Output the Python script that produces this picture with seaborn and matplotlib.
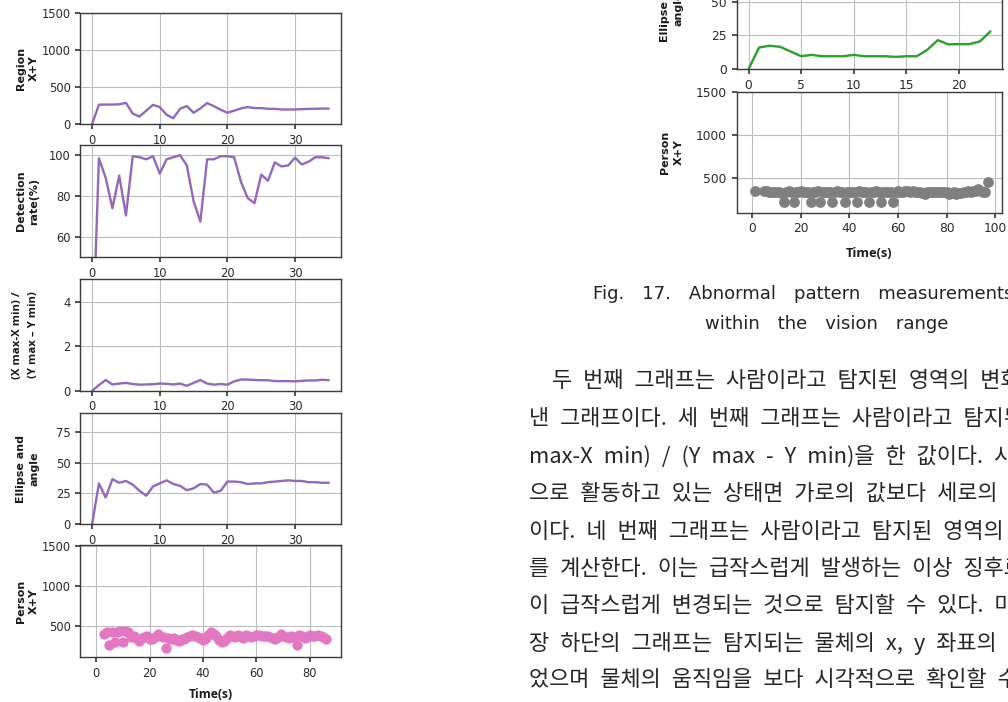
import matplotlib
matplotlib.use("Agg")
import matplotlib.pyplot as plt
from matplotlib.ticker import MultipleLocator, FixedLocator
import pandas as pd
import seaborn as sns

# ---------------- data ----------------
t_track = list(range(36))
region_xy = [0, 260, 262, 262, 265, 285, 140, 100, 180, 258, 228, 125, 78, 205,
             242, 152, 210, 282, 240, 192, 152, 180, 210, 228, 215, 214, 205, 204,
             196, 195, 196, 200, 204, 205, 208, 208]
detection_rate = [0, 98.5, 89, 74, 90, 70.5, 99.5, 99, 98, 99.5, 91, 98, 99, 100,
                  95, 77.5, 67.5, 98, 98, 99.5, 99.5, 99, 87, 79, 76.5, 90.5, 87.5,
                  96.5, 94.5, 95, 98.8, 95.5, 96.8, 99, 99, 98.5]
aspect_ratio = [0, 0.25, 0.48, 0.28, 0.32, 0.35, 0.30, 0.27, 0.28, 0.29, 0.32, 0.31,
                0.28, 0.32, 0.22, 0.35, 0.48, 0.32, 0.27, 0.30, 0.27, 0.42, 0.50,
                0.50, 0.48, 0.47, 0.47, 0.43, 0.43, 0.43, 0.42, 0.44, 0.46, 0.46,
                0.49, 0.47]
ellipse_angle = [0, 33, 21.5, 36.5, 33.5, 35, 32, 27, 23, 30.5, 33, 35.5, 32.5, 31,
                 27.5, 29, 32.5, 32, 25.5, 27, 34.5, 34.5, 34, 32.5, 33, 33, 34,
                 34.5, 35, 35.5, 35, 35, 34, 34, 33.5, 33.5]

t_person = list(range(3, 87))
person_xy = [400, 415, 250, 425, 300, 420, 430, 290, 430, 420, 360, 370, 350, 310,
             340, 355, 365, 330, 335, 360, 395, 375, 355, 215, 350, 335, 345, 320,
             310, 330, 335, 355, 365, 380, 370, 355, 340, 320, 350, 380, 425, 395,
             375, 320, 295, 310, 345, 380, 370, 355, 385, 370, 350, 385, 370, 360,
             375, 385, 380, 370, 375, 365, 355, 345, 330, 360, 400, 375, 360, 350,
             370, 360, 250, 380, 370, 345, 360, 380, 370, 375, 380, 370, 360, 335]

t_angle_b = list(range(24))
ellipse_angle_b = [0, 16, 17.3, 16.5, 13, 9.5, 10.5, 9.5, 9.5, 9.5, 10.5, 9.5, 9.5,
                   9.5, 9, 9.5, 9.5, 14.3, 21.5, 18.3, 18.5, 18.5, 20.5, 28]

t_person_b = [1] + list(range(5, 98))
person_xy_b = [345,
               355, 350, 340, 335, 340, 338, 342, 330, 225, 340,   # t 5-14
               345, 335, 225, 340, 338, 345, 335, 342, 340, 225,   # t 15-24
               338, 340, 345, 225, 338, 340, 342, 335, 225, 340,   # t 25-34
               345, 338, 340, 225, 342, 335, 340, 338, 225, 345,   # t 35-44
               338, 340, 335, 225, 342, 340, 345, 338, 225, 335,   # t 45-54
               340, 342, 338, 225, 340, 345, 335, 342, 345, 348,   # t 55-64
               342, 345, 340, 338, 335, 330, 320, 335, 338, 340,   # t 65-74
               335, 338, 340, 342, 338, 335, 320, 330, 335, 320,   # t 75-84
               325, 330, 335, 340, 345, 340, 345, 350, 375, 350,   # t 85-94
               340, 335, 450]                                      # t 95-97

caption = ["Fig. 17. Abnormal pattern measurements",
           "within the vision range"]
body_lines = ["두 번째 그래프는 사람이라고 탐지된 영역의 변화를",
              "낸 그래프이다. 세 번째 그래프는 사람이라고 탐지된 영역의",
              "max-X min) / (Y max - Y min)을 한 값이다. 사람이",
              "으로 활동하고 있는 상태면 가로의 값보다 세로의 값이",
              "이다. 네 번째 그래프는 사람이라고 탐지된 영역의 타원",
              "를 계산한다. 이는 급작스럽게 발생하는 이상 징후로",
              "이 급작스럽게 변경되는 것으로 탐지할 수 있다. 마지막",
              "장 하단의 그래프는 탐지되는 물체의 x, y 좌표의 합을",
              "었으며 물체의 움직임을 보다 시각적으로 확인할 수"]

# ---------------- style ----------------
sns.set_theme(style="ticks")
plt.rcParams.update({
    "font.family": ["DejaVu Sans"],
    "axes.edgecolor": "#3a3a3a",
    "axes.linewidth": 1.0,
    "xtick.color": "#3a3a3a",
    "ytick.color": "#3a3a3a",
    "xtick.labelcolor": "#2a2a2a",
    "ytick.labelcolor": "#2a2a2a",
    "xtick.major.size": 3.5,
    "ytick.major.size": 3.5,
    "xtick.labelsize": 8.3,
    "ytick.labelsize": 8.3,
    "grid.color": "#bdbdbd",
    "grid.linewidth": 0.8,
})

W, H = 1008, 702
fig = plt.figure(figsize=(W / 100, H / 100), dpi=100, facecolor="white")


def add_px_axes(x0, x1, ytop, ybot):
    return fig.add_axes([x0 / W, 1 - ybot / H, (x1 - x0) / W, (ybot - ytop) / H])


PURPLE = "#9467bd"
PINK = "#e377c2"
GREEN = "#2ca02c"
GREY = "#7f7f7f"
label_kw = dict(fontsize=8, fontweight="bold", color="#1a1a1a", linespacing=1.45)

# ---------- left column ----------
LX0, LX1 = 80.3, 340.7
rows = [(12.7, 124), (145, 257.3), (279.3, 390.7), (413.3, 524), (545, 657)]
left_axes = [add_px_axes(LX0, LX1, a, b) for a, b in rows]

line_df = pd.DataFrame({"t": t_track, "region": region_xy, "rate": detection_rate,
                        "ratio": aspect_ratio, "angle": ellipse_angle})
specs = [("region", (0, 1500), 500, "Region\nX+Y"),
         ("rate", (50, 105), 20, "Detection\nrate(%)"),
         ("ratio", (0, 5), 2, "(X max-X min) /\n(Y max – Y min)"),
         ("angle", (0, 90), 25, "Ellipse and\nangle")]
for ax, (col, ylim, step, lab) in zip(left_axes[:4], specs):
    sns.lineplot(data=line_df, x="t", y=col, ax=ax, color=PURPLE, linewidth=1.7)
    ax.set_xlim(-1.75, 36.75)
    ax.set_ylim(*ylim)
    ax.xaxis.set_major_locator(MultipleLocator(10))
    ax.yaxis.set_major_locator(MultipleLocator(step))
    ax.set_xlabel("")
    if col == "ratio":
        ax.set_ylabel(lab, fontsize=8.2, fontweight="bold", color="#1a1a1a",
                      family=["Open Sans", "DejaVu Sans"], linespacing=1.65)
    else:
        ax.set_ylabel(lab, **label_kw)
    ax.grid(True)

ax5 = left_axes[4]
sns.scatterplot(x=t_person, y=person_xy, ax=ax5, color=PINK, s=55, linewidth=0,
                alpha=1.0)
ax5.set_xlim(-5.9, 91.5)
ax5.set_ylim(105, 1515)
ax5.xaxis.set_major_locator(MultipleLocator(20))
ax5.yaxis.set_major_locator(FixedLocator([500, 1000, 1500]))
ax5.set_ylabel("Person\nX+Y", **label_kw)
ax5.set_xlabel("Time(s)", fontsize=8.7, fontweight="bold", color="#1a1a1a",
               family=["Open Sans", "DejaVu Sans"], labelpad=6)
ax5.grid(True)
for ax in left_axes:
    ax.yaxis.set_label_coords(-0.158, 0.5)

# ---------- right column ----------
RX0, RX1 = 736.5, 1002.5
axr1 = add_px_axes(RX0, RX1, -52, 69)
axr2 = add_px_axes(RX0, RX1, 92, 212.7)

sns.lineplot(x=t_angle_b, y=ellipse_angle_b, ax=axr1, color=GREEN, linewidth=1.7)
axr1.set_xlim(-1.15, 24.15)
axr1.set_ylim(0, 90)
axr1.xaxis.set_major_locator(MultipleLocator(5))
axr1.yaxis.set_major_locator(MultipleLocator(25))
axr1.set_ylabel("Ellipse and\nangle", **label_kw)
axr1.grid(True)
for lab in axr1.get_xticklabels() + axr1.get_yticklabels():
    lab.set_fontsize(8.8)

sns.scatterplot(x=t_person_b, y=person_xy_b, ax=axr2, color=GREY, s=60,
                linewidth=0, alpha=1.0)
axr2.set_xlim(-6.5, 103)
axr2.set_ylim(97, 1500)
axr2.xaxis.set_major_locator(MultipleLocator(20))
axr2.yaxis.set_major_locator(FixedLocator([500, 1000, 1500]))
axr2.set_ylabel("Person\nX+Y", **label_kw)
axr2.set_xlabel("Time(s)", fontsize=9.3, fontweight="bold", color="#1a1a1a",
                family=["Open Sans", "DejaVu Sans"], labelpad=8)
axr2.grid(True)
for lab in axr2.get_xticklabels() + axr2.get_yticklabels():
    lab.set_fontsize(8.8)
for ax in (axr1, axr2):
    ax.yaxis.set_label_coords(-0.198, 0.5)

# ---------- caption and body text ----------
cap_kw = dict(va="center", fontsize=13, color="#222222", family=["DejaVu Sans"])
fig.text(593 / W, 1 - 294 / H, caption[0].replace(" ", "\u2003"), ha="left", **cap_kw)
fig.text(826.5 / W, 1 - 324 / H, caption[1].replace(" ", "\u2003"), ha="center",
         **cap_kw)

line_y = [381, 419, 457, 494, 532, 569, 606, 643, 680]
for i, (txt, y) in enumerate(zip(body_lines, line_y)):
    x0 = 552 if i == 0 else 529
    fig.text(x0 / W, 1 - y / H, txt.replace(" ", "\u2002"), ha="left", va="center",
             fontsize=15.8, color="#262626",
             family=["Noto Sans CJK KR", "DejaVu Sans"])

fig.savefig("out.png", dpi=100, facecolor="white")
